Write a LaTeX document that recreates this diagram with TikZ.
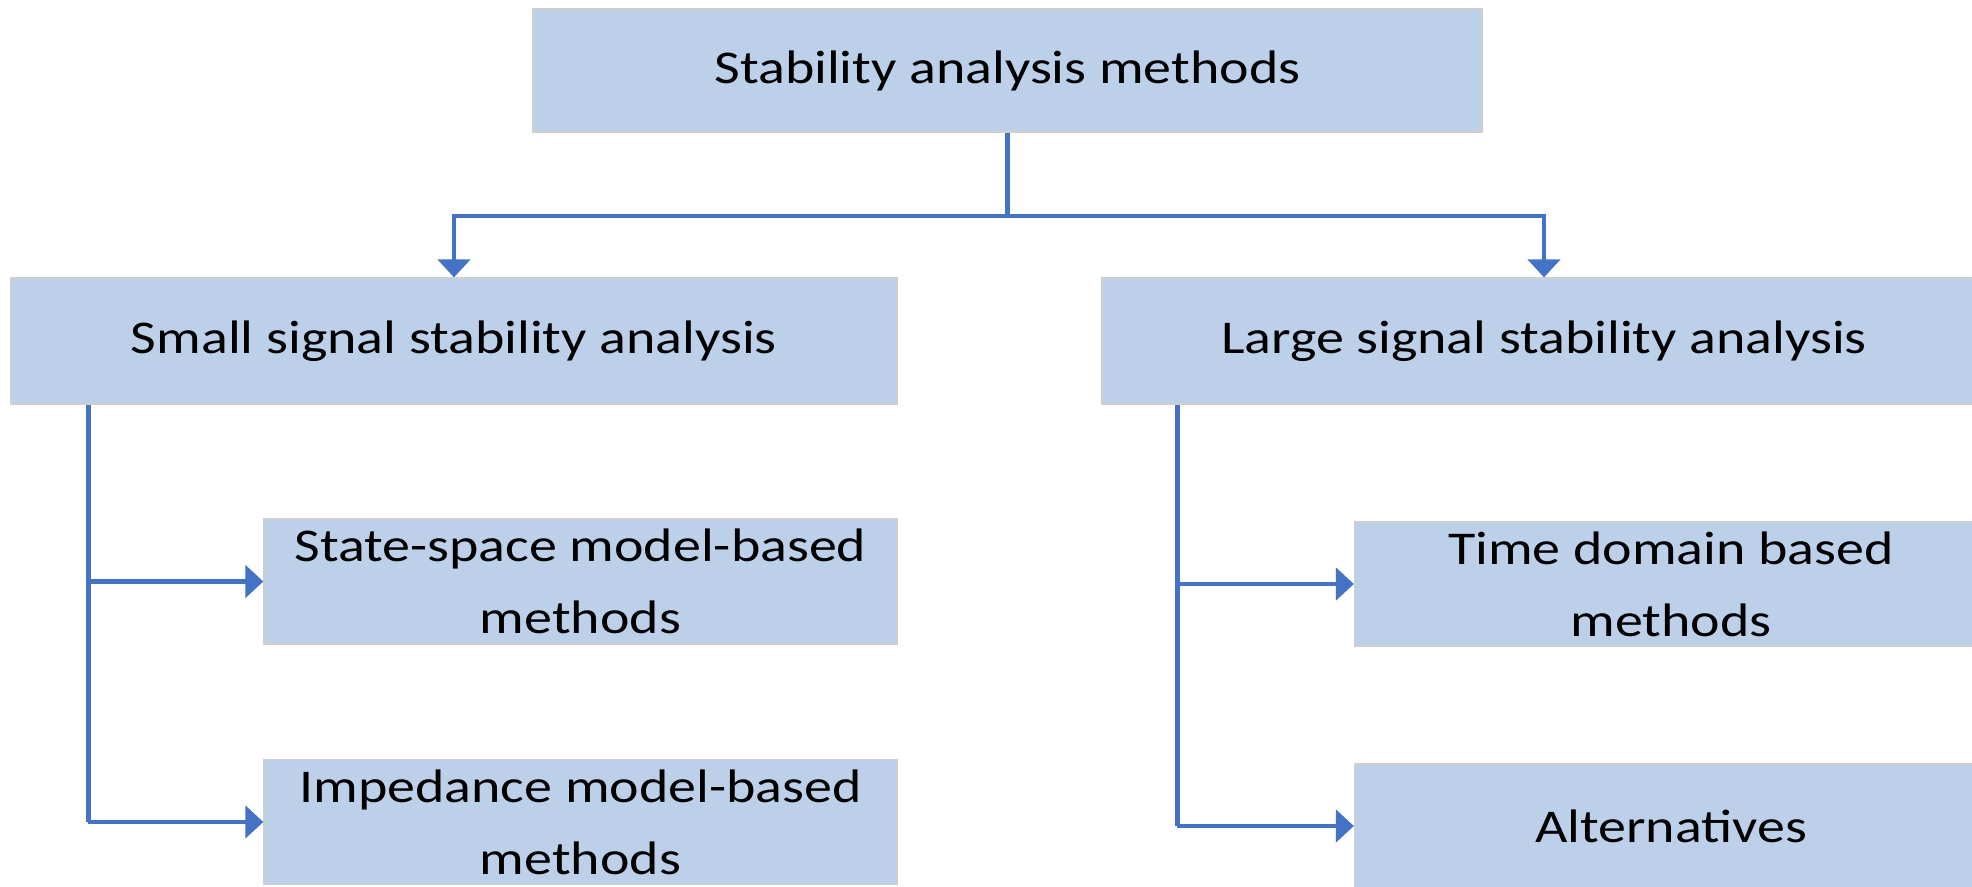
\documentclass[tikz,border=0pt]{standalone}
\usepackage{fontspec}
\setmainfont{Carlito}[FakeStretch=1.19]
\usetikzlibrary{arrows.meta,calc}
\definecolor{boxfill}{HTML}{BDD0E9}
\definecolor{boxedge}{HTML}{CFCFCF}
\definecolor{linkblue}{HTML}{4472C4}
\begin{document}
\begin{tikzpicture}[x=1pt,y=-1pt,
  box/.style={draw=boxedge,line width=1.2pt,fill=boxfill,inner sep=0pt,
    align=center,font=\fontsize{47}{72}\selectfont,text=black},
  link/.style={draw=linkblue,line width=4.6pt},
  linkarrow/.style={link,-{Triangle[length=18pt,width=32pt]}}]
\useasboundingbox (0,0) rectangle (1972,886);
\clip (0,0) rectangle (1972,886);

% top level
\node[box,minimum width=949pt,minimum height=123pt] (top) at (1007.5,70.5)
  {Stability analysis methods};

% second level
\node[box,minimum width=886pt,minimum height=126pt] (small) at (454,341)
  {Small signal stability analysis};
\node[box,minimum width=884pt,minimum height=126pt] (large) at (1544,341)
  {Large signal stability analysis};

% third level
\node[box,minimum width=633pt,minimum height=125pt] (ss) at (580.5,581.5)
  {State-space model-based\\methods};
\node[box,minimum width=633pt,minimum height=125pt] (imp) at (580.5,822)
  {Impedance model-based\\methods};
\node[box,minimum width=633pt,minimum height=124pt] (td) at (1671,584)
  {Time domain based\\methods};
\node[box,minimum width=633pt,minimum height=124pt] (alt) at (1671,826)
  {Alternatives};

% fork below the top box
\coordinate (fork) at (top.south |- 0,216);
\draw[link] (top.south) -- (fork);
\draw[linkarrow] (fork) -| (small.north);
\draw[linkarrow] (fork) -| (large.north);

% left branch
\coordinate (lstem) at ($(small.south west)+(78,0)$);
\draw[link] (lstem) -- (lstem |- imp.west);
\draw[linkarrow] (lstem |- ss.west) -- (ss.west);
\draw[linkarrow] (lstem |- imp.west) -- (imp.west);

% right branch
\coordinate (rstem) at ($(large.south west)+(76,0)$);
\draw[link] (rstem) -- (rstem |- alt.west);
\draw[linkarrow] (rstem |- td.west) -- (td.west);
\draw[linkarrow] (rstem |- alt.west) -- (alt.west);
\end{tikzpicture}
\end{document}
